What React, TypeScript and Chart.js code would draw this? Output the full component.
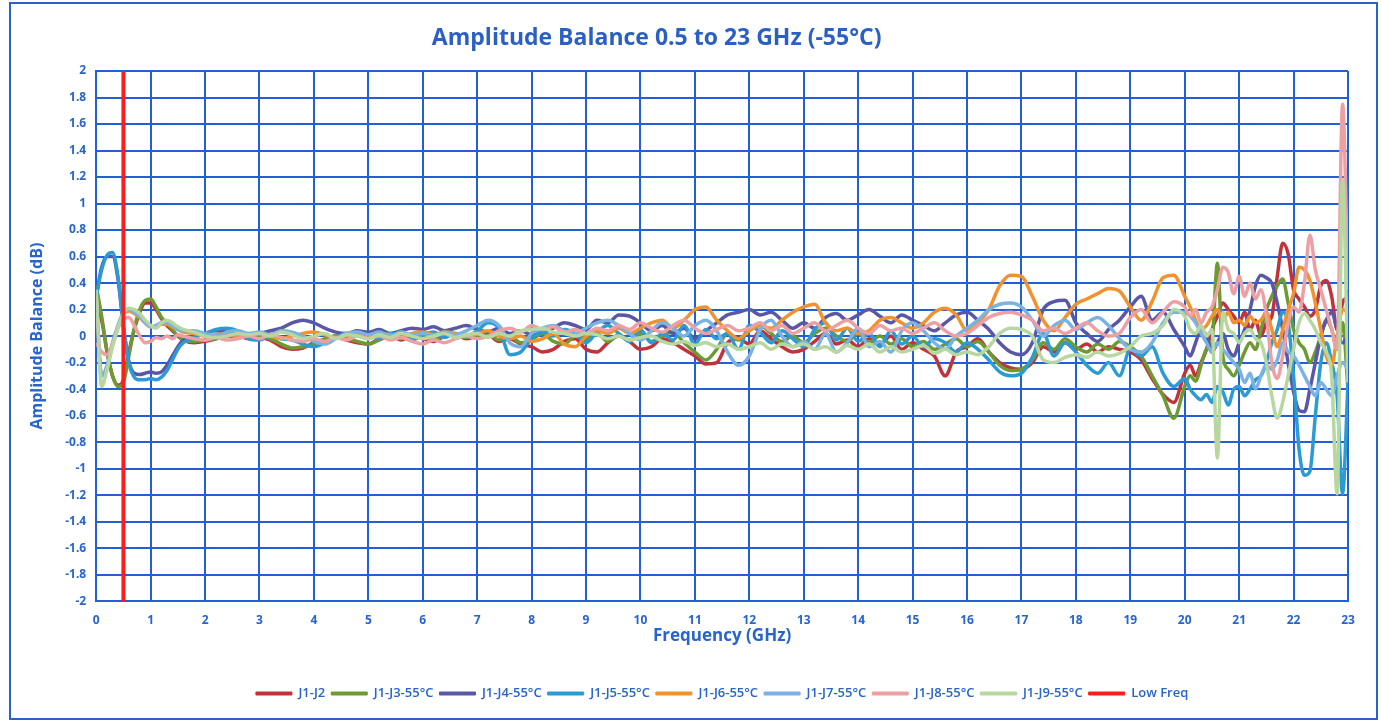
import { useEffect, useRef } from "react";
import { Chart, registerables } from "chart.js";

Chart.register(...registerables);

// Frequency grid (GHz)
const FREQ_GHZ = [
  0, 0.1, 0.2, 0.3, 0.4, 0.5, 0.6, 0.7, 0.8, 0.9, 1, 1.1, 1.2, 1.3, 1.4, 1.5, 1.6,
  1.8, 2, 2.2, 2.4, 2.6, 2.8,
  3, 3.2, 3.4, 3.6, 3.8, 4, 4.2, 4.4, 4.6, 4.8,
  5, 5.2, 5.4, 5.6, 5.8, 6, 6.2, 6.4, 6.6, 6.8,
  7, 7.2, 7.4, 7.6, 7.8, 8, 8.2, 8.4, 8.6, 8.8,
  9, 9.2, 9.4, 9.6, 9.8, 10, 10.2, 10.4, 10.6, 10.8,
  11, 11.2, 11.4, 11.6, 11.8, 12, 12.2, 12.4, 12.6, 12.8,
  13, 13.2, 13.4, 13.6, 13.8, 14, 14.2, 14.4, 14.6, 14.8,
  15, 15.2, 15.4, 15.6, 15.8, 16, 16.2, 16.4, 16.6, 16.8,
  17, 17.2, 17.4, 17.6, 17.8, 18, 18.2, 18.4, 18.6, 18.8,
  19, 19.2, 19.4, 19.6, 19.8,
  20, 20.1, 20.2, 20.3, 20.4, 20.5, 20.6, 20.7, 20.8, 20.9,
  21, 21.1, 21.2, 21.3, 21.4, 21.5, 21.6, 21.7, 21.8, 21.9,
  22, 22.1, 22.2, 22.3, 22.4, 22.5, 22.6, 22.7, 22.8, 22.9,
  23,
];

const J1_J2 = [
  0.2, 0.12, -0.12, -0.3, -0.37, -0.33, -0.12, 0.05, 0.18, 0.25, 0.25, 0.2, 0.13, 0.08, 0.04, 0.0, -0.03,
  -0.05, -0.04, -0.02, 0.0, 0.0, -0.02,
  -0.01, -0.03, -0.08, -0.1, -0.09, -0.05, -0.03, 0.0, -0.03, -0.05,
  -0.06, -0.02, 0.01, -0.03, 0.0, -0.02, -0.04, 0.0, 0.01, -0.02,
  0.0, 0.01, -0.04, -0.02, -0.06, -0.08, -0.12, -0.1, -0.04, -0.02,
  -0.1, -0.12, -0.05, 0.0, -0.04, -0.1, -0.08, -0.02, -0.05, -0.1,
  -0.15, -0.21, -0.2, -0.05, -0.02, -0.06, 0.04, -0.02, -0.08, -0.12,
  -0.1, -0.04, 0.02, -0.06, -0.03, -0.08, -0.02, -0.06, 0.0, -0.1,
  -0.05, -0.1, -0.15, -0.3, -0.12, -0.08, -0.02, -0.12, -0.2, -0.24,
  -0.25, -0.2, -0.08, -0.12, -0.05, -0.1, -0.06, -0.12, -0.08, -0.1,
  -0.12, -0.18, -0.32, -0.44, -0.5,
  -0.28, -0.22, -0.3, -0.2, -0.1, 0.05, 0.15, 0.25, 0.2, 0.15,
  0.1, 0.18, 0.05, 0.12, 0.0, 0.1, 0.15, 0.45, 0.7, 0.62,
  0.35, 0.28, 0.22, 0.15, 0.2, 0.38, 0.42, 0.3, 0.05, 0.25,
  0.3,
];

const J1_J3_55C = [
  0.38, 0.15, -0.12, -0.3, -0.38, -0.35, -0.15, 0.06, 0.2, 0.27, 0.28, 0.22, 0.14, 0.1, 0.05, 0.0, -0.03,
  -0.04, -0.03, -0.02, 0.0, 0.01, -0.01,
  0.0, -0.02, -0.06, -0.09, -0.08, -0.06, -0.02, 0.0, -0.02, -0.04,
  -0.06, -0.03, 0.0, -0.02, 0.01, 0.0, -0.03, 0.01, 0.02, -0.01,
  0.0, 0.02, -0.03, 0.0, -0.05, -0.03, 0.02, -0.04, -0.06, 0.0,
  -0.02, 0.02, -0.04, 0.01, -0.03, 0.02, -0.04, 0.0, 0.03, -0.05,
  -0.12, -0.18, -0.1, 0.02, -0.03, 0.05, 0.08, 0.02, -0.04, 0.0,
  -0.05, 0.02, 0.06, 0.0, -0.04, 0.02, -0.05, 0.0, -0.06, -0.02,
  -0.08, -0.04, -0.1, -0.06, -0.02, -0.08, -0.04, -0.12, -0.22, -0.26,
  -0.25, -0.18, -0.05, -0.1, -0.02, -0.08, -0.12, -0.06, -0.1, -0.04,
  -0.08, -0.15, -0.3, -0.45, -0.62,
  -0.38, -0.3, -0.34, -0.22, -0.1, -0.05, 0.55, -0.15, -0.25, -0.3,
  -0.22, -0.12, -0.05, -0.1, 0.05, 0.2, 0.3, 0.38, 0.43, 0.25,
  0.05, -0.05, -0.1, -0.2, -0.12, 0.0, 0.12, 0.05, -0.1, 0.1,
  -0.4,
];

const J1_J4_55C = [
  0.3, 0.52, 0.6, 0.6, 0.43, 0.07, -0.19, -0.28, -0.29, -0.28, -0.27, -0.28, -0.27, -0.22, -0.15, -0.08, -0.03,
  0.0, 0.02, 0.04, 0.03, 0.02, 0.01,
  0.02, 0.04, 0.06, 0.1, 0.12, 0.1, 0.06, 0.03, 0.02, 0.04,
  0.03, 0.05, 0.02, 0.04, 0.06, 0.05, 0.07, 0.04, 0.06, 0.08,
  0.05, 0.03, 0.06, 0.02, 0.04, 0.01, 0.03, 0.06, 0.1, 0.08,
  0.05, 0.12, 0.1, 0.16, 0.15, 0.1, 0.04, 0.08, 0.02, 0.06,
  -0.02, 0.04, 0.1, 0.16, 0.18, 0.2, 0.16, 0.18, 0.12, 0.06,
  0.1, 0.06, 0.14, 0.17, 0.12, 0.16, 0.2, 0.15, 0.1, 0.16,
  0.12, 0.08, 0.04, 0.1, 0.16, 0.18, 0.12, 0.05, -0.05, -0.12,
  -0.14, -0.05, 0.2, 0.26, 0.27, 0.1, 0.02, -0.04, 0.05, 0.12,
  0.22, 0.3, 0.12, 0.18, 0.05,
  -0.08, -0.15, -0.05, 0.05, 0.0, -0.12, -0.05, 0.02, -0.1, -0.15,
  -0.05, 0.05, 0.2, 0.38, 0.46, 0.44, 0.4, 0.25, 0.05, -0.2,
  -0.42, -0.56, -0.57, -0.4, -0.2, 0.0, 0.12, 0.18, 0.05, -0.05,
  0.0,
];

const J1_J5_55C = [
  0.3, 0.5, 0.61, 0.63, 0.45, 0.08, -0.2, -0.31, -0.33, -0.33, -0.32, -0.33, -0.31, -0.26, -0.18, -0.1, -0.05,
  -0.01, 0.02, 0.05, 0.06, 0.04, -0.02,
  -0.03, 0.0, -0.02, -0.03, -0.06, -0.08, -0.05, -0.01, 0.02, 0.0,
  0.01, -0.02, 0.02, 0.0, -0.03, 0.01, 0.03, -0.01, 0.02, 0.0,
  0.04, 0.1, 0.06, -0.14, -0.12, -0.02, 0.03, 0.0, 0.05, 0.02,
  -0.05, 0.03, 0.08, 0.02, -0.04, 0.05, -0.05, 0.02, -0.03, 0.08,
  -0.06, 0.05, -0.02, 0.02, -0.1, 0.08, 0.03, -0.05, 0.04, -0.02,
  -0.08, 0.05, 0.1, -0.03, 0.06, -0.04, 0.02, -0.08, 0.04, -0.06,
  0.0, -0.08, -0.02, -0.05, -0.12, -0.05, -0.1, -0.18, -0.27, -0.3,
  -0.28, -0.16, 0.02, -0.15, -0.05, -0.12, -0.22, -0.28, -0.2, -0.3,
  -0.1, -0.15, -0.08, -0.28, -0.38,
  -0.32, -0.4, -0.45, -0.48, -0.44, -0.5, -0.38, -0.42, -0.52, -0.4,
  -0.38, -0.45, -0.4, -0.33, -0.3, -0.2, -0.05, 0.05, 0.18, 0.1,
  -0.3, -0.85, -1.05, -1.02, -0.6, -0.2, -0.05, -0.2, -0.45, -1.19,
  -0.35,
];

const J1_J6_55C = [
  0.3, -0.3, -0.23, -0.06, 0.07, 0.17, 0.19, 0.17, 0.14, 0.1, 0.07, 0.07, 0.09, 0.09, 0.07, 0.05, 0.03,
  0.02, 0.0, 0.01, 0.02, 0.0, 0.01,
  0.02, 0.0, -0.02, 0.0, 0.02, 0.03, 0.01, -0.01, 0.0, 0.02,
  0.0, 0.02, 0.01, -0.01, 0.02, 0.03, 0.01, 0.03, 0.02, 0.0,
  0.02, 0.04, 0.0, -0.02, 0.0, -0.04, -0.02, 0.02, -0.06, -0.08,
  0.0, 0.04, 0.02, 0.06, 0.02, 0.06, 0.1, 0.12, 0.06, 0.12,
  0.2, 0.22, 0.12, 0.04, -0.02, 0.04, 0.08, 0.06, 0.12, 0.18,
  0.22, 0.24, 0.1, 0.04, 0.06, 0.02, 0.04, 0.12, 0.14, 0.1,
  0.06, 0.1, 0.18, 0.21, 0.16, 0.04, 0.1, 0.2, 0.38, 0.46,
  0.45, 0.3, 0.12, 0.04, 0.14, 0.24, 0.28, 0.32, 0.36, 0.34,
  0.22, 0.12, 0.26, 0.44, 0.46,
  0.3, 0.22, 0.12, 0.05, 0.08, 0.15, 0.2, 0.12, 0.18, 0.1,
  0.12, 0.08, 0.15, 0.1, 0.12, 0.18, 0.05, -0.08, 0.05, 0.2,
  0.32, 0.52, 0.5, 0.42, 0.25, 0.05, -0.15, -0.22, 0.0, 0.2,
  0.18,
];

const J1_J7_55C = [
  0.3, -0.3, -0.22, -0.05, 0.08, 0.18, 0.2, 0.18, 0.15, 0.1, 0.07, 0.08, 0.1, 0.1, 0.08, 0.05, 0.04,
  0.04, 0.02, 0.0, 0.03, 0.04, 0.02,
  0.03, 0.01, 0.04, 0.03, 0.0, -0.04, -0.06, -0.02, 0.02, 0.03,
  0.01, 0.03, 0.0, 0.03, 0.01, 0.02, 0.0, 0.03, 0.01, 0.04,
  0.08, 0.12, 0.08, -0.05, -0.08, 0.02, 0.06, 0.08, 0.04, 0.02,
  0.06, 0.1, 0.12, 0.08, 0.02, -0.03, 0.04, 0.1, 0.06, 0.0,
  0.08, 0.12, 0.04, -0.12, -0.22, -0.15, 0.05, 0.12, 0.0, -0.08,
  -0.04, -0.1, 0.02, -0.12, -0.05, 0.06, -0.08, -0.04, -0.12, 0.04,
  0.1, 0.04, -0.05, -0.1, 0.0, 0.06, 0.12, 0.2, 0.24, 0.25,
  0.22, 0.12, 0.0, 0.08, 0.12, 0.05, 0.1, 0.14, 0.08, -0.02,
  -0.1, -0.12, -0.05, 0.1, 0.18,
  0.18, 0.15, 0.1, 0.02, -0.05, -0.12, -0.05, -0.1, -0.15, -0.2,
  -0.25, -0.35, -0.28, -0.4, -0.3, -0.22, -0.25, -0.18, -0.05, -0.12,
  -0.15, -0.22, -0.3, -0.38, -0.45, -0.35, -0.4, -0.45, -0.3, -0.2,
  -0.25,
];

const J1_J8_55C = [
  -0.05, -0.12, -0.14, -0.06, 0.06, 0.13, 0.14, 0.08, 0.0, -0.05, -0.04, -0.01, -0.02, 0.0, -0.02, 0.01, 0.0,
  -0.02, -0.03, -0.01, -0.03, -0.02, 0.0,
  -0.02, 0.01, -0.01, -0.03, -0.04, -0.02, -0.04, -0.01, -0.03, 0.0,
  -0.02, 0.0, -0.03, -0.01, -0.04, -0.06, -0.03, -0.05, -0.02, 0.0,
  -0.02, 0.0, 0.04, 0.06, 0.03, 0.08, 0.05, 0.07, 0.03, 0.05,
  0.02, 0.06, 0.04, 0.08, 0.05, 0.1, 0.06, 0.03, 0.08, 0.12,
  0.06, 0.02, 0.05, 0.08, 0.04, 0.06, 0.1, 0.04, 0.08, 0.02,
  0.06, 0.1, 0.04, 0.08, 0.12, 0.06, 0.02, 0.08, 0.04, 0.06,
  0.02, 0.06, 0.1, 0.04, 0.0, 0.02, 0.08, 0.14, 0.17, 0.18,
  0.16, 0.12, 0.04, 0.06, 0.02, 0.06, 0.1, 0.04, 0.0, 0.02,
  0.14, 0.2, 0.1, 0.18, 0.26,
  0.22, 0.15, 0.2, 0.1, 0.18, 0.22, 0.35, 0.52, 0.48, 0.32,
  0.45, 0.3, 0.4, 0.28, 0.35, 0.15, -0.2, -0.32, -0.15, 0.1,
  0.22, 0.18, 0.4, 0.76, 0.5, 0.35, 0.2, 0.05, -0.1, 1.75,
  0.35,
];

const J1_J9_55C = [
  0.35, -0.38, -0.25, -0.08, 0.06, 0.17, 0.21, 0.2, 0.17, 0.12, 0.08, 0.06, 0.1, 0.12, 0.1, 0.07, 0.05,
  0.03, 0.0, -0.01, 0.0, 0.02, 0.01,
  0.02, 0.0, 0.03, 0.01, -0.02, 0.0, 0.02, -0.02, 0.01, 0.0,
  -0.02, 0.01, -0.01, 0.02, 0.0, -0.02, 0.0, 0.02, -0.01, 0.01,
  0.02, -0.01, 0.02, 0.0, 0.04, 0.05, 0.06, 0.03, 0.02, 0.0,
  0.02, 0.01, -0.02, 0.0, -0.03, -0.01, 0.0, -0.04, -0.06, -0.04,
  -0.07, -0.05, -0.08, -0.06, -0.1, -0.08, -0.05, -0.1, -0.06, -0.08,
  -0.06, -0.1, -0.08, -0.12, -0.07, -0.1, -0.06, -0.12, -0.08, -0.12,
  -0.1, -0.07, -0.13, -0.1, -0.14, -0.12, -0.14, -0.08, 0.02, 0.06,
  0.05, 0.0, -0.18, -0.2, -0.16, -0.14, -0.16, -0.12, -0.15, -0.13,
  -0.08, 0.0, 0.02, 0.08, 0.2,
  0.15, 0.05, 0.02, 0.08, 0.0, 0.05, -0.92, 0.18, 0.05, 0.02,
  -0.05, 0.02, 0.05, -0.02, -0.05, -0.2, -0.45, -0.62, -0.5, -0.3,
  -0.1, 0.1, 0.17, 0.12, 0.05, -0.05, -0.12, -0.3, -1.19, 1.18,
  -0.35,
];

const LOW_FREQ_X = [0.5, 0.5];
const LOW_FREQ_Y = [-2, 2];

const SERIES_LABELS = [
  "J1-J2",
  "J1-J3-55°C",
  "J1-J4-55°C",
  "J1-J5-55°C",
  "J1-J6-55°C",
  "J1-J7-55°C",
  "J1-J8-55°C",
  "J1-J9-55°C",
];
const SERIES_VALUES = [J1_J2, J1_J3_55C, J1_J4_55C, J1_J5_55C, J1_J6_55C, J1_J7_55C, J1_J8_55C, J1_J9_55C];
const SERIES_COLORS = ["#c0323c", "#6e9a34", "#5a58a6", "#2c9bd4", "#f0932e", "#7ab2e2", "#eda0a4", "#b7d7a0"];
const LOW_FREQ_COLOR = "#fa1e1e";

const TITLE_TEXT = "Amplitude Balance 0.5 to 23 GHz (-55°C)";
const TEXT_BLUE = "#2764cc";
const TITLE_BLUE = "#2a5fc4";
const GRID_BLUE = "#2160d4";
const FONT = "'Open Sans', 'DejaVu Sans', sans-serif";

// Chart title drawn slightly left of centre, as in the original layout
const chartTitlePlugin = {
  id: "chartTitleOffset",
  afterDraw(chart: any) {
    const { ctx } = chart;
    ctx.save();
    ctx.font = `bold 23px ${FONT}`;
    ctx.fillStyle = TITLE_BLUE;
    ctx.textAlign = "center";
    ctx.textBaseline = "middle";
    ctx.fillText(TITLE_TEXT, chart.width * 0.473, 34);
    ctx.restore();
  },
};

export default function App() {
  const ref = useRef<HTMLCanvasElement>(null);

  useEffect(() => {
    document.body.style.margin = "0";
    const canvas = ref.current;
    if (!canvas) return;

    const datasets: any[] = SERIES_VALUES.map((vals, i) => ({
      label: SERIES_LABELS[i],
      data: FREQ_GHZ.map((f, k) => ({ x: f, y: vals[k] })),
      borderColor: SERIES_COLORS[i],
      backgroundColor: SERIES_COLORS[i],
      borderWidth: 3.5,
      pointRadius: 0,
      cubicInterpolationMode: "monotone",
      order: SERIES_VALUES.length - i,
    }));
    datasets.push({
      label: "Low Freq",
      data: LOW_FREQ_X.map((x, k) => ({ x, y: LOW_FREQ_Y[k] })),
      borderColor: LOW_FREQ_COLOR,
      backgroundColor: LOW_FREQ_COLOR,
      borderWidth: 4,
      pointRadius: 0,
      order: 0,
    });

    const chart = new Chart(canvas, {
      type: "line",
      data: { datasets },
      plugins: [chartTitlePlugin],
      options: {
        animation: false,
        responsive: true,
        maintainAspectRatio: false,
        layout: { padding: { left: 12, right: 28, top: 67, bottom: 8 } },
        plugins: {
          title: { display: false },
          legend: {
            position: "bottom",
            fullSize: false,
            labels: {
              color: TEXT_BLUE,
              font: { family: FONT, size: 13, weight: "600" },
              boxWidth: 36,
              boxHeight: 3,
              padding: 6,
              sort: (a: any, b: any) => a.datasetIndex - b.datasetIndex,
              generateLabels: (c: any) =>
                Chart.defaults.plugins.legend.labels.generateLabels(c).map((l: any) => ({ ...l, lineWidth: 1 })),
            },
          },
          tooltip: { enabled: false },
        },
        scales: {
          x: {
            type: "linear",
            min: 0,
            max: 23,
            ticks: {
              stepSize: 1,
              color: TEXT_BLUE,
              font: { family: FONT, size: 12, weight: "bold" },
              padding: 12,
            },
            grid: { color: GRID_BLUE, lineWidth: 2, drawTicks: false },
            border: { display: true, color: GRID_BLUE, width: 2 },
            title: {
              display: true,
              text: "Frequency (GHz)",
              color: TEXT_BLUE,
              font: { family: FONT, size: 17, weight: "bold" },
              padding: { top: -14, bottom: 35 },
            },
          },
          y: {
            min: -2,
            max: 2,
            ticks: {
              stepSize: 0.2,
              color: TEXT_BLUE,
              font: { family: FONT, size: 12, weight: "bold" },
              padding: 10,
              callback: (v: any) => String(Math.round(Number(v) * 10) / 10),
            },
            grid: { color: GRID_BLUE, lineWidth: 2, drawTicks: false },
            border: { display: true, color: GRID_BLUE, width: 2 },
            title: {
              display: true,
              text: "Amplitude Balance (dB)",
              color: TEXT_BLUE,
              font: { family: FONT, size: 16, weight: "bold" },
              padding: { top: 5, bottom: 8 },
            },
          },
        },
      },
    });
    return () => chart.destroy();
  }, []);

  return (
    <div
      style={{
        position: "absolute",
        left: 9,
        top: 2,
        width: 1369,
        height: 718,
        border: "2px solid #2a62c8",
        boxSizing: "border-box",
        background: "#fff",
      }}
    >
      <canvas ref={ref} />
    </div>
  );
}
